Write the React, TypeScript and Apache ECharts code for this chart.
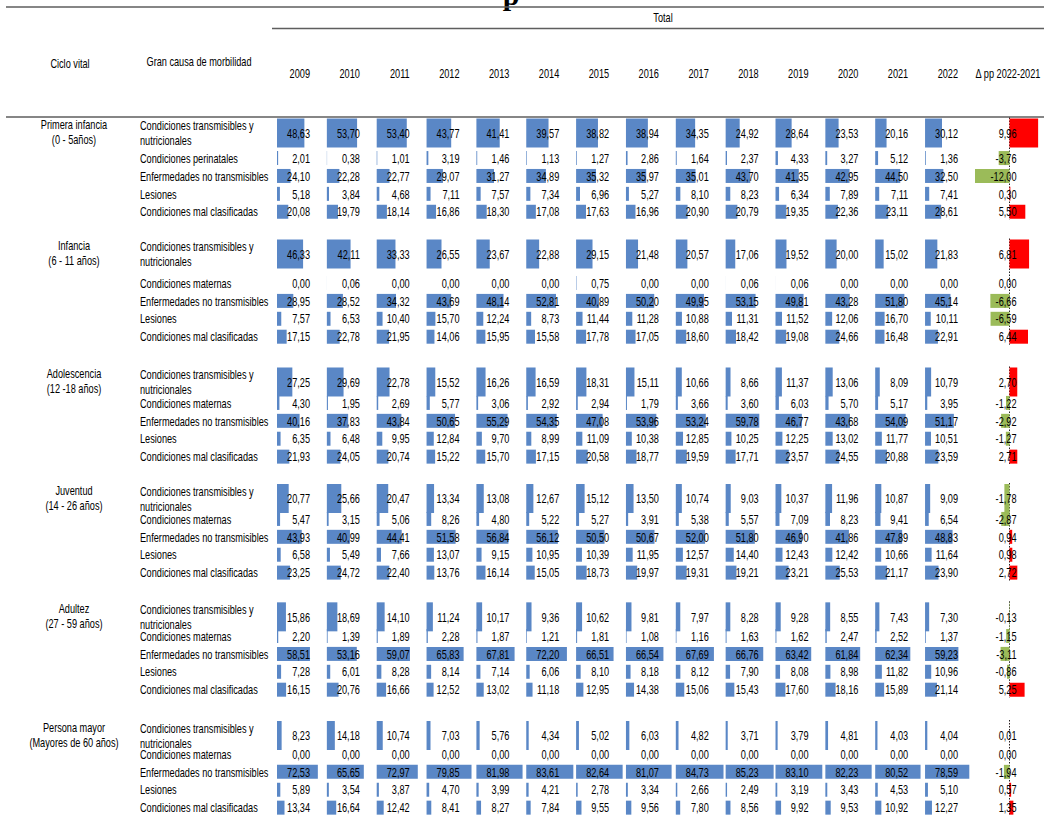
import React, { useEffect, useRef } from 'react';
import * as echarts from 'echarts';

// ---------- DATA ----------
const YEARS = ['2009', '2010', '2011', '2012', '2013', '2014', '2015', '2016', '2017', '2018', '2019', '2020', '2021', '2022'];
const DELTA_HEADER = 'Δ pp 2022-2021';
const GROUP_LABELS = [
  'Primera infancia\n(0 - 5años)',
  'Infancia\n(6 - 11 años)',
  'Adolescencia\n(12 -18 años)',
  'Juventud\n(14 - 26 años)',
  'Adultez\n(27 - 59 años)',
  'Persona mayor\n(Mayores de 60 años)',
];
const CAUSES_FIRST_GROUP = ['Condiciones transmisibles y\nnutricionales', 'Condiciones perinatales', 'Enfermedades no transmisibles', 'Lesiones', 'Condiciones mal clasificadas'];
const CAUSES = ['Condiciones transmisibles y\nnutricionales', 'Condiciones maternas', 'Enfermedades no transmisibles', 'Lesiones', 'Condiciones mal clasificadas'];

const primeraInfancia = [
  [48.63, 53.70, 53.40, 43.77, 41.41, 39.57, 38.82, 38.94, 34.35, 24.92, 28.64, 23.53, 20.16, 30.12],
  [2.01, 0.38, 1.01, 3.19, 1.46, 1.13, 1.27, 2.86, 1.64, 2.37, 4.33, 3.27, 5.12, 1.36],
  [24.10, 22.28, 22.77, 29.07, 31.27, 34.89, 35.32, 35.97, 35.01, 43.70, 41.35, 42.95, 44.50, 32.50],
  [5.18, 3.84, 4.68, 7.11, 7.57, 7.34, 6.96, 5.27, 8.10, 8.23, 6.34, 7.89, 7.11, 7.41],
  [20.08, 19.79, 18.14, 16.86, 18.30, 17.08, 17.63, 16.96, 20.90, 20.79, 19.35, 22.36, 23.11, 28.61],
];
const infancia = [
  [46.33, 42.11, 33.33, 26.55, 23.67, 22.88, 29.15, 21.48, 20.57, 17.06, 19.52, 20.00, 15.02, 21.83],
  [0.00, 0.06, 0.00, 0.00, 0.00, 0.00, 0.75, 0.00, 0.00, 0.06, 0.06, 0.00, 0.00, 0.00],
  [28.95, 28.52, 34.32, 43.69, 48.14, 52.81, 40.89, 50.20, 49.95, 53.15, 49.81, 43.28, 51.80, 45.14],
  [7.57, 6.53, 10.40, 15.70, 12.24, 8.73, 11.44, 11.28, 10.88, 11.31, 11.52, 12.06, 16.70, 10.11],
  [17.15, 22.78, 21.95, 14.06, 15.95, 15.58, 17.78, 17.05, 18.60, 18.42, 19.08, 24.66, 16.48, 22.91],
];
const adolescencia = [
  [27.25, 29.69, 22.78, 15.52, 16.26, 16.59, 18.31, 15.11, 10.66, 8.66, 11.37, 13.06, 8.09, 10.79],
  [4.30, 1.95, 2.69, 5.77, 3.06, 2.92, 2.94, 1.79, 3.66, 3.60, 6.03, 5.70, 5.17, 3.95],
  [40.16, 37.83, 43.84, 50.65, 55.29, 54.35, 47.08, 53.96, 53.24, 59.78, 46.77, 43.68, 54.09, 51.17],
  [6.35, 6.48, 9.95, 12.84, 9.70, 8.99, 11.09, 10.38, 12.85, 10.25, 12.25, 13.02, 11.77, 10.51],
  [21.93, 24.05, 20.74, 15.22, 15.70, 17.15, 20.58, 18.77, 19.59, 17.71, 23.57, 24.55, 20.88, 23.59],
];
const juventud = [
  [20.77, 25.66, 20.47, 13.34, 13.08, 12.67, 15.12, 13.50, 10.74, 9.03, 10.37, 11.96, 10.87, 9.09],
  [5.47, 3.15, 5.06, 8.26, 4.80, 5.22, 5.27, 3.91, 5.38, 5.57, 7.09, 8.23, 9.41, 6.54],
  [43.93, 40.99, 44.41, 51.58, 56.84, 56.12, 50.50, 50.67, 52.00, 51.80, 46.90, 41.86, 47.89, 48.83],
  [6.58, 5.49, 7.66, 13.07, 9.15, 10.95, 10.39, 11.95, 12.57, 14.40, 12.43, 12.42, 10.66, 11.64],
  [23.25, 24.72, 22.40, 13.76, 16.14, 15.05, 18.73, 19.97, 19.31, 19.21, 23.21, 25.53, 21.17, 23.90],
];
const adultez = [
  [15.86, 18.69, 14.10, 11.24, 10.17, 9.36, 10.62, 9.81, 7.97, 8.28, 9.28, 8.55, 7.43, 7.30],
  [2.20, 1.39, 1.89, 2.28, 1.87, 1.21, 1.81, 1.08, 1.16, 1.63, 1.62, 2.47, 2.52, 1.37],
  [58.51, 53.16, 59.07, 65.83, 67.81, 72.20, 66.51, 66.54, 67.69, 66.76, 63.42, 61.84, 62.34, 59.23],
  [7.28, 6.01, 8.28, 8.14, 7.14, 6.06, 8.10, 8.18, 8.12, 7.90, 8.08, 8.98, 11.82, 10.96],
  [16.15, 20.76, 16.66, 12.52, 13.02, 11.18, 12.95, 14.38, 15.06, 15.43, 17.60, 18.16, 15.89, 21.14],
];
const personaMayor = [
  [8.23, 14.18, 10.74, 7.03, 5.76, 4.34, 5.02, 6.03, 4.82, 3.71, 3.79, 4.81, 4.03, 4.04],
  [0.00, 0.00, 0.00, 0.00, 0.00, 0.00, 0.00, 0.00, 0.00, 0.00, 0.00, 0.00, 0.00, 0.00],
  [72.53, 65.65, 72.97, 79.85, 81.98, 83.61, 82.64, 81.07, 84.73, 85.23, 83.10, 82.23, 80.52, 78.59],
  [5.89, 3.54, 3.87, 4.70, 3.99, 4.21, 2.78, 3.34, 2.66, 2.49, 3.19, 3.43, 4.53, 5.10],
  [13.34, 16.64, 12.42, 8.41, 8.27, 7.84, 9.55, 9.56, 7.80, 8.56, 9.92, 9.53, 10.92, 12.27],
];
const deltaPrimeraInfancia = [9.96, -3.76, -12.00, 0.30, 5.50];
const deltaInfancia = [6.81, 0.00, -6.66, -6.59, 6.44];
const deltaAdolescencia = [2.70, -1.22, -2.92, -1.27, 2.71];
const deltaJuventud = [-1.78, -2.87, 0.94, 0.98, 2.72];
const deltaAdultez = [-0.13, -1.15, -3.11, -0.86, 5.25];
const deltaPersonaMayor = [0.01, 0.00, -1.94, 0.57, 1.35];

const GROUP_VALUES = [primeraInfancia, infancia, adolescencia, juventud, adultez, personaMayor];
const GROUP_DELTAS = [deltaPrimeraInfancia, deltaInfancia, deltaAdolescencia, deltaJuventud, deltaAdultez, deltaPersonaMayor];

// ---------- LAYOUT ----------
const W = 1044;
const H = 823;
const COL_LEFT0 = 277;
const COL_PITCH = 49.85;
const BAR_MAX_W = 48;
const VALUE_TEXT_OFFSET = 33;
const DELTA_LEFT = 975;
const DELTA_W = 80;
const DELTA_TEXT_OFFSET = 7;
const ROW_PX = 17.9;
const FIRST_ROW_Y = 133;
const Y_MIN = -1;
const Y_MAX = 38.4;
// row-slot layout (in row units) for each group's first row and gap after it
const GROUP_START = [0, 6.76, 13.91, 20.42, 27.03, 33.66];
const ROW1_GAP = [1.40, 1.62, 1.17, 1.14, 1.07, 1.03];
const TALL_H = 29;
const ROW_H = 14;

const FONT = '"Liberation Sans", Arial, sans-serif';
const FONT_SIZE = 13.5;
const SX = 0.68;
const BLUE = '#5A87C6';
const RED = '#FF0000';
const GREEN = '#9BBB59';
const LINE = '#5e5e5e';

const fmt = (v: number) => v.toFixed(2).replace('.', ',');

const rowPos = (g: number, r: number) => (r === 0 ? GROUP_START[g] : GROUP_START[g] + ROW1_GAP[g] + (r - 1));

export default function App() {
  const ref = useRef<HTMLDivElement>(null);

  useEffect(() => {
    if (!ref.current) return;
    const chart = echarts.init(ref.current, undefined, { renderer: 'svg' });

    const maxVal = Math.max(...GROUP_VALUES.flat(2));
    const maxAbsDelta = Math.max(...GROUP_DELTAS.flat().map((d) => Math.abs(d)));

    const gridTop = FIRST_ROW_Y - (0 - Y_MIN) * ROW_PX;
    const gridH = (Y_MAX - Y_MIN) * ROW_PX;

    const grids: any[] = [];
    const xAxes: any[] = [];
    const yAxes: any[] = [];
    const series: any[] = [];

    const addGrid = (left: number, width: number, min: number, max: number) => {
      const idx = grids.length;
      grids.push({ left, width, top: gridTop, height: gridH, containLabel: false });
      xAxes.push({ gridIndex: idx, type: 'value', min, max, show: false });
      yAxes.push({ gridIndex: idx, type: 'value', min: Y_MIN, max: Y_MAX, inverse: true, show: false });
      return idx;
    };

    const textEl = (x: number, y: number, text: string, align: string, extra: any = {}) => ({
      type: 'text',
      x,
      y,
      scaleX: SX,
      silent: true,
      style: {
        text,
        align,
        verticalAlign: 'middle',
        fontFamily: FONT,
        fontSize: FONT_SIZE,
        fill: '#000',
        ...extra,
      },
    });

    const cellRender = (textOffset: number, colorOf: (v: number) => string) => (params: any, api: any) => {
      const v = api.value(0);
      const y = api.value(1);
      const tall = api.value(2) === 1;
      const p0 = api.coord([0, y]);
      const p1 = api.coord([v, y]);
      const h = tall ? TALL_H : ROW_H;
      const children: any[] = [];
      if (v !== 0) {
        children.push({
          type: 'rect',
          shape: { x: Math.min(p0[0], p1[0]), y: p0[1] - h / 2, width: Math.abs(p1[0] - p0[0]), height: h },
          style: { fill: colorOf(v) },
        });
      }
      children.push(textEl(p0[0] + textOffset, p0[1], fmt(v), 'right'));
      return { type: 'group', children };
    };

    // year columns
    YEARS.forEach((yr, j) => {
      const gi = addGrid(COL_LEFT0 + j * COL_PITCH, BAR_MAX_W, 0, maxVal);
      const data: number[][] = [];
      GROUP_VALUES.forEach((grp, g) => grp.forEach((row, r) => data.push([row[j], rowPos(g, r), r === 0 ? 1 : 0])));
      series.push({
        type: 'custom',
        name: yr,
        xAxisIndex: gi,
        yAxisIndex: gi,
        clip: false,
        silent: true,
        dimensions: ['value', 'row', 'tall'],
        encode: { x: 0, y: 1 },
        data,
        renderItem: cellRender(VALUE_TEXT_OFFSET, () => BLUE),
      });
    });

    // delta column
    const dgi = addGrid(DELTA_LEFT, DELTA_W, -maxAbsDelta, maxAbsDelta);
    const ddata: number[][] = [];
    GROUP_DELTAS.forEach((grp, g) => grp.forEach((v, r) => ddata.push([v, rowPos(g, r), r === 0 ? 1 : 0])));
    series.push({
      type: 'custom',
      name: 'axis',
      xAxisIndex: dgi,
      yAxisIndex: dgi,
      clip: false,
      silent: true,
      data: GROUP_LABELS.map((_, g) => [rowPos(g, 0), rowPos(g, 4)]),
      renderItem: (params: any, api: any) => {
        const a = api.coord([0, api.value(0)]);
        const b = api.coord([0, api.value(1)]);
        return {
          type: 'line',
          shape: { x1: a[0], y1: a[1] - TALL_H / 2 - 1, x2: b[0], y2: b[1] + ROW_H / 2 + 1 },
          style: { stroke: '#222', lineWidth: 1, lineDash: [1.5, 1.5] },
        };
      },
    });
    series.push({
      type: 'custom',
      name: DELTA_HEADER,
      xAxisIndex: dgi,
      yAxisIndex: dgi,
      clip: false,
      silent: true,
      dimensions: ['value', 'row', 'tall'],
      encode: { x: 0, y: 1 },
      data: ddata,
      renderItem: cellRender(DELTA_TEXT_OFFSET, (v) => (v > 0 ? RED : GREEN)),
    });

    // label columns (grid mapping x 1:1 over the left part of the table)
    const lgi = addGrid(0, COL_LEFT0 - 5, 0, COL_LEFT0 - 5);
    const labelData: any[] = [];
    GROUP_LABELS.forEach((_, g) => {
      const names = g === 0 ? CAUSES_FIRST_GROUP : CAUSES;
      names.forEach((n, r) => labelData.push([rowPos(g, r), g, r]));
    });
    series.push({
      type: 'custom',
      name: 'causes',
      xAxisIndex: lgi,
      yAxisIndex: lgi,
      clip: false,
      silent: true,
      data: labelData,
      renderItem: (params: any, api: any) => {
        const g = api.value(1);
        const r = api.value(2);
        const p = api.coord([140, api.value(0)]);
        const names = g === 0 ? CAUSES_FIRST_GROUP : CAUSES;
        return textEl(p[0], p[1], names[r], 'left', { lineHeight: 15 });
      },
    });
    series.push({
      type: 'custom',
      name: 'groups',
      xAxisIndex: lgi,
      yAxisIndex: lgi,
      clip: false,
      silent: true,
      data: GROUP_LABELS.map((_, g) => [rowPos(g, 0), g]),
      renderItem: (params: any, api: any) => {
        const p = api.coord([74, api.value(0)]);
        return textEl(p[0], p[1] - 1, GROUP_LABELS[api.value(1)], 'center', { lineHeight: 15 });
      },
    });

    // header graphics
    const gText = (x: number, y: number, text: string, align = 'center', extra: any = {}) => ({
      type: 'text',
      x,
      y,
      scaleX: SX,
      silent: true,
      style: { text, align, verticalAlign: 'middle', fontFamily: FONT, fontSize: FONT_SIZE, fill: '#000', ...extra },
    });
    const graphic: any[] = [
      {
        type: 'text',
        x: 511,
        y: -6,
        silent: true,
        style: { text: 'p', align: 'center', verticalAlign: 'middle', fontFamily: '"Liberation Serif", serif', fontWeight: 'bold', fontSize: 30, fill: '#000' },
      },
      { type: 'line', shape: { x1: 6, y1: 7, x2: W, y2: 7 }, style: { stroke: LINE, lineWidth: 1.7 } },
      { type: 'line', shape: { x1: 272, y1: 28.5, x2: W, y2: 28.5 }, style: { stroke: LINE, lineWidth: 1.7 } },
      { type: 'line', shape: { x1: 6, y1: 117, x2: W, y2: 117 }, style: { stroke: LINE, lineWidth: 1.7 } },
      gText(663, 17, 'Total'),
      gText(70, 63, 'Ciclo vital'),
      gText(199, 61, 'Gran causa de morbilidad'),
      gText(DELTA_LEFT + DELTA_W / 2 - 7, 73, DELTA_HEADER),
      ...YEARS.map((yr, j) => gText(COL_LEFT0 + j * COL_PITCH + VALUE_TEXT_OFFSET, 73, yr, 'right')),
    ];

    chart.setOption({
      animation: false,
      backgroundColor: '#fff',
      grid: grids,
      xAxis: xAxes,
      yAxis: yAxes,
      series,
      graphic,
    });

    return () => chart.dispose();
  }, []);

  return <div ref={ref} style={{ position: 'absolute', left: 0, top: 0, width: W, height: H, background: '#fff' }} />;
}
